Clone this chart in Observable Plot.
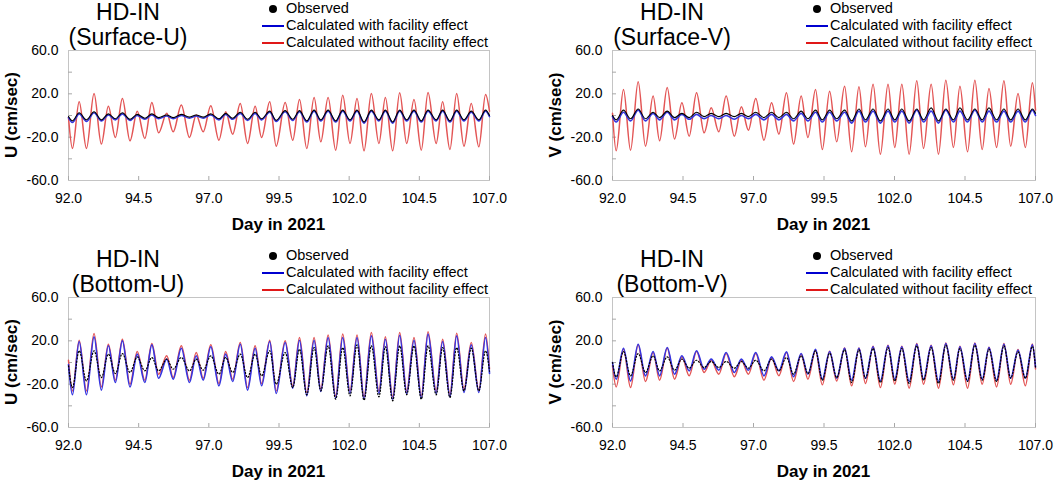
<!DOCTYPE html>
<html><head><meta charset="utf-8">
<script src="https://cdn.jsdelivr.net/npm/d3@7"></script>
<script src="https://cdn.jsdelivr.net/npm/@observablehq/plot@0.6"></script>
<style>
html,body{margin:0;padding:0;background:#fff;}
body{width:1058px;height:481px;overflow:hidden;font-family:"Liberation Sans",Arial,sans-serif;color:#000;}
#root{position:relative;width:1058px;height:481px;}
.panel{position:absolute;width:529px;height:234px;}
.panel svg{position:absolute;left:0;top:0;}
.title{position:absolute;width:120px;text-align:center;font-size:23px;line-height:25px;white-space:nowrap;}
.legend{position:absolute;font-size:14.5px;line-height:17px;white-space:nowrap;}
.legend .row{position:relative;height:17px;padding-left:24px;}
.legend .dot{position:absolute;left:7px;top:5px;width:8px;height:8px;border-radius:50%;background:#000;}
.legend .ln{position:absolute;left:0;top:8px;width:22px;height:2px;}
.ytitle{position:absolute;font-size:17px;font-weight:bold;white-space:nowrap;transform:translate(-50%,-50%) rotate(-90deg);}
.xtitle{position:absolute;font-size:17px;font-weight:bold;white-space:nowrap;transform:translate(-50%,-50%);}
</style></head>
<body><div id="root"></div>
<script>
// ---- axis ticks ----
const xTicks = [92, 94.5, 97, 99.5, 102, 104.5, 107];
const yLabelTicks = [-60, -20, 20, 60];
const yMinorTicks = [-40, -20, 0, 20, 40];

// ---- extremum times (start, trough/peak pairs, end) ----
const dayU = [92.0, 92.14,92.38, 92.64,92.91, 93.17,93.42, 93.67,93.92, 94.19,94.45, 94.72,94.97, 95.21,95.5, 95.73,96.02, 96.31,96.55, 96.8,97.07, 97.36,97.6, 97.85,98.12, 98.38,98.65, 98.88,99.17, 99.4,99.72, 99.99,100.23, 100.49,100.75, 100.99,101.25, 101.52,101.77, 102.03,102.28, 102.53,102.79, 103.06,103.29, 103.55,103.8, 104.05,104.31, 104.57,104.81, 105.1,105.33, 105.59,105.83, 106.09,106.35, 106.62,106.86, 107.0];
const dayV = [92.0, 92.13,92.39, 92.64,92.91, 93.17,93.44, 93.67,93.94, 94.2,94.46, 94.72,94.98, 95.25,95.5, 95.77,96.03, 96.32,96.57, 96.82,97.08, 97.37,97.64, 97.9,98.17, 98.42,98.69, 98.93,99.2, 99.44,99.7, 99.95,100.23, 100.48,100.74, 100.97,101.24, 101.5,101.77, 102.01,102.26, 102.52,102.79, 103.03,103.3, 103.56,103.82, 104.09,104.32, 104.59,104.85, 105.11,105.35, 105.62,105.88, 106.12,106.38, 106.64,106.89, 107.0];

// ---- Surface-U ----
const obsSurfU = [-1, -5,2.5, -4,3.5, -4,1.5, -3,2.5, -3.5,1, -2.5,1.5, -2,0.5, -2,1, -1.5,0.5, -1.5,1.5, -3,2, -2.5,3, -3.5,3, -3,4, -4.5,4.5, -3.5,4.5, -5,5, -4,5, -5,5, -4,5, -6,5, -4,5, -6,5, -4,5, -5,5, -4,5, -5,5, -4,4, -4,5, 0];
const withSurfU = [-2, -6.5,1.5, -5.5,2.5, -5,0.5, -4,1.5, -4.5,0, -3.5,0.5, -3,-0.5, -3,0, -2.5,-0.5, -2.5,0.5, -4,1, -3.5,2, -4.5,2, -4,3, -5.5,3.5, -4.5,3.5, -6,4, -5,4, -6,4, -5,4, -7,4, -5,4, -7,4, -5,4, -6,4, -5,4, -6,4, -5,3, -5,4, -1];
const withoutSurfU = [-2, -30.4,12.6, -30.4,20.3, -26.4,8.6, -20.3,15.7, -23.4,4.0, -21.2,12.0, -16.0,2.0, -15.1,9.6, -20.3,0.5, -15.1,8.9, -22.8,3.4, -17.2,11.1, -25.8,8.6, -20.3,12.6, -28.3,12.0, -22.8,14.8, -30.4,16.6, -24.3,16.6, -32.0,18.8, -25.8,15.7, -32.6,20.3, -25.8,16.6, -32.6,21.0, -25.8,14.8, -32.0,21.3, -25.8,12.6, -31.4,20.3, -28.3,11.1, -28.9,19.4, 4];

// ---- Surface-V ----
const obsSurfV = [0, -4,5, -3,6, -3,3, -2,4, -2,2, -2,3, -1,2, -1,2, -1,2, -1,3, -2,3, -2,3, -3,4, -3,5, -4,5, -3,5, -5,6, -4,6, -5,6, -4,6, -5,6, -4,7, -5,6, -4,7, -4,6, -4,7, -4,6, -4,6, -4,6, 2];
const withSurfV = [-1, -6,3, -5,5, -5,2, -4,3, -4,1, -3.5,1, -3,0, -3,0, -3.5,0, -3,1, -4,1, -4,1, -5,2, -5,3, -6,3, -5,3, -7,4, -6,4, -7,4, -6,4, -7,5, -6,4, -7,5, -6,4, -6,5, -6,4, -6,4, -6,4, -6,5, 0];
const withoutSurfV = [2, -32.6,24.0, -32.0,31.1, -28.3,17.9, -23.4,25.9, -21.8,11.7, -19.1,21.0, -16.0,7.1, -15.1,17.9, -19.1,8.0, -13.5,15.7, -22.8,11.7, -17.2,21.0, -26.4,17.9, -20.3,24.0, -31.4,22.5, -24.3,27.1, -33.5,26.5, -28.9,28.9, -35.7,28.9, -29.5,28.9, -35.7,32.0, -30.4,28.9, -35.7,32.6, -29.5,27.1, -33.5,32.6, -31.4,25.0, -29.5,32.0, -28.3,20.3, -29.5,30.2, 5];

// ---- Bottom-U ----
const obsBotU = [-3, -23.1,10.8, -17.0,10.8, -13.9,7.7, -10.2,8.3, -9.2,5.2, -7.7,4.6, -7.7,3.1, -6.2,4.6, -7.7,3.1, -7.1,6.2, -10.8,4.6, -9.2,7.7, -13.9,7.7, -12.3,10.8, -20.0,9.2, -23.1,12.3, -29.8,13.8, -26.2,15.4, -33.9,13.8, -30.8,16.3, -34.8,15.4, -31.7,14.5, -35.4,15.4, -29.8,15.4, -33.9,15.4, -29.8,13.8, -32.3,13.8, -26.2,13.2, -26.2,10.8, -8];
const withBotU = [-2, -29.8,19.4, -29.8,23.7, -25.5,15.4, -18.5,20.0, -22.5,7.7, -18.5,16.3, -14.5,3.1, -15.4,13.2, -18.5,6.2, -16.3,14.5, -21.5,7.7, -17.5,16.9, -25.5,13.2, -21.5,19.4, -28.6,18.5, -23.7,20.6, -30.8,20.6, -26.8,23.1, -32.9,23.1, -28.6,23.1, -33.9,24.6, -28.6,21.5, -33.9,25.2, -28.6,20.6, -32.9,26.2, -28.6,19.4, -31.7,24.6, -27.7,16.3, -27.7,23.1, -10];
const withoutBotU = [2, -26.2,20.6, -26.2,26.8, -22.5,16.9, -16.3,21.5, -20.0,10.1, -16.3,17.5, -10.8,6.2, -13.9,15.4, -16.3,9.2, -14.5,16.3, -19.4,10.1, -15.4,18.5, -23.1,15.4, -19.4,20.6, -26.2,20.0, -21.5,23.1, -27.7,23.1, -24.6,25.5, -30.8,26.2, -26.2,25.5, -31.7,27.7, -26.2,23.7, -31.7,27.7, -26.2,23.1, -30.8,28.3, -26.2,21.5, -29.2,27.1, -24.6,18.5, -25.5,26.2, -6];

// ---- Bottom-V ----
const obsBotV = [0, -13.2,10.1, -12.3,8.3, -9.2,6.2, -7.7,5.2, -7.1,3.1, -5.2,2.1, -4.6,0.9, -4.6,0.9, -5.2,0.9, -5.2,2.1, -7.7,3.1, -7.7,4.6, -10.8,6.2, -10.2,10.8, -16.3,8.6, -13.9,11.7, -18.5,11.7, -14.5,12.9, -18.5,13.8, -17.0,12.9, -19.4,15.4, -16.3,13.8, -19.4,16.0, -16.3,12.9, -17.5,16.0, -16.3,12.3, -17.5,15.4, -14.5,9.8, -14.5,14.8, -4];
const withBotV = [0, -15.4,13.2, -17.0,16.9, -12.3,10.1, -12.3,13.8, -10.8,6.2, -7.7,10.8, -6.2,3.1, -7.1,9.2, -9.2,3.1, -7.1,9.2, -12.3,5.2, -7.7,9.8, -13.2,8.3, -10.8,12.3, -15.4,10.1, -14.5,13.2, -16.3,13.2, -14.5,14.5, -17.0,15.4, -15.4,14.5, -17.5,16.9, -15.4,15.4, -17.5,17.5, -15.4,14.5, -17.0,17.5, -15.4,13.8, -16.3,16.9, -14.5,11.4, -14.5,16.3, -4];
const withoutBotV = [-3, -22.5,12.3, -23.1,16.3, -17.5,9.2, -16.3,13.2, -15.4,5.2, -12.3,10.1, -9.2,2.1, -10.8,8.3, -13.2,2.1, -10.8,8.3, -16.3,4.6, -12.3,9.2, -17.5,7.7, -15.4,11.4, -20.6,10.5, -17.0,13.5, -21.5,13.5, -19.4,15, -23.1,16, -20.0,15, -23.7,17.5, -20.0,16, -23.7,18, -20.6,15, -23.7,18, -20.0,14, -22.5,17.5, -20.0,12, -21.5,17, -6];

const seriesNames = ["Observed", "Calculated with facility effect", "Calculated without facility effect"];
const colors = {obs: "#000000", withF: "#3535e0", without: "#e35555"};

const panels = [
  {left: 0,   top: 0,   ml: 68, mr: 40, sub: "(Surface-U)", ytitle: "U (cm/sec)", day: dayU, obs: obsSurfU, withF: withSurfU, without: withoutSurfU, ytx: 12, dash: null},
  {left: 529, top: 0,   ml: 83, mr: 23, sub: "(Surface-V)", ytitle: "V (cm/sec)", day: dayV, obs: obsSurfV, withF: withSurfV, without: withoutSurfV, ytx: 27, dash: null},
  {left: 0,   top: 247, ml: 68, mr: 40, sub: "(Bottom-U)",  ytitle: "U (cm/sec)", day: dayU, obs: obsBotU,  withF: withBotU,  without: withoutBotU, ytx: 12, dash: "1.2,2"},
  {left: 529, top: 247, ml: 83, mr: 23, sub: "(Bottom-V)",  ytitle: "V (cm/sec)", day: dayV, obs: obsBotV,  withF: withBotV,  without: withoutBotV, ytx: 27, dash: "1.2,2"}
];

const W = 529, H = 234, MT = 50, MB = 54;
const root = document.getElementById("root");

for (const p of panels) {
  const rows = p.day.map((d, i) => ({day: d, obs: p.obs[i], withF: p.withF[i], without: p.without[i]}));
  const chart = Plot.plot({
    width: W, height: H,
    marginLeft: p.ml, marginRight: p.mr, marginTop: MT, marginBottom: MB,
    x: {domain: [92, 107]},
    y: {domain: [-60, 60]},
    style: {fontFamily: '"Liberation Sans", Arial, sans-serif', fontSize: "14px", color: "#000", background: "transparent", overflow: "visible"},
    marks: [
      Plot.frame({stroke: "#c4c4c4"}),
      Plot.axisX({ticks: xTicks, tickSize: 0, tickPadding: 13, tickFormat: d => d.toFixed(1), label: null}),
      Plot.axisX({ticks: xTicks, tickSize: 4, dy: -4, fill: "none", stroke: "#a8a8a8", label: null}),
      Plot.axisY({ticks: yLabelTicks, tickSize: 0, tickPadding: 10, tickFormat: d => d.toFixed(1), label: null}),
      Plot.axisY({ticks: yMinorTicks, tickSize: 4, dx: 4, fill: "none", stroke: "#a8a8a8", label: null}),
      Plot.line(rows, {x: "day", y: "without", stroke: colors.without, strokeWidth: 1.5, curve: "monotone-x"}),
      Plot.line(rows, {x: "day", y: "withF", stroke: colors.withF, strokeWidth: 1.6, curve: "monotone-x"}),
      Plot.line(rows, {x: "day", y: "obs", stroke: colors.obs, strokeWidth: p.dash ? 1.2 : 1.1, strokeDasharray: p.dash, curve: "monotone-x"})
    ]
  });
  const div = document.createElement("div");
  div.className = "panel";
  div.style.left = p.left + "px";
  div.style.top = p.top + "px";
  div.appendChild(chart);

  const title = document.createElement("div");
  title.className = "title";
  title.style.left = p.ml + "px";
  title.style.top = "0px";
  title.innerHTML = "HD-IN<br>" + p.sub;
  div.appendChild(title);

  const lg = document.createElement("div");
  lg.className = "legend";
  lg.style.left = (p.ml + 194) + "px";
  lg.style.top = "0px";
  lg.innerHTML =
    `<div class="row"><span class="dot"></span>${seriesNames[0]}</div>` +
    `<div class="row"><span class="ln" style="background:#0000d0"></span>${seriesNames[1]}</div>` +
    `<div class="row"><span class="ln" style="background:#e01818"></span>${seriesNames[2]}</div>`;
  div.appendChild(lg);

  const yt = document.createElement("div");
  yt.className = "ytitle";
  yt.style.left = p.ytx + "px";
  yt.style.top = (MT + (H - MT - MB) / 2) + "px";
  yt.textContent = p.ytitle;
  div.appendChild(yt);

  const xt = document.createElement("div");
  xt.className = "xtitle";
  xt.style.left = (p.ml + (W - p.ml - p.mr) / 2) + "px";
  xt.style.top = "225px";
  xt.textContent = "Day in 2021";
  div.appendChild(xt);

  root.appendChild(div);
}
</script>
</body></html>
